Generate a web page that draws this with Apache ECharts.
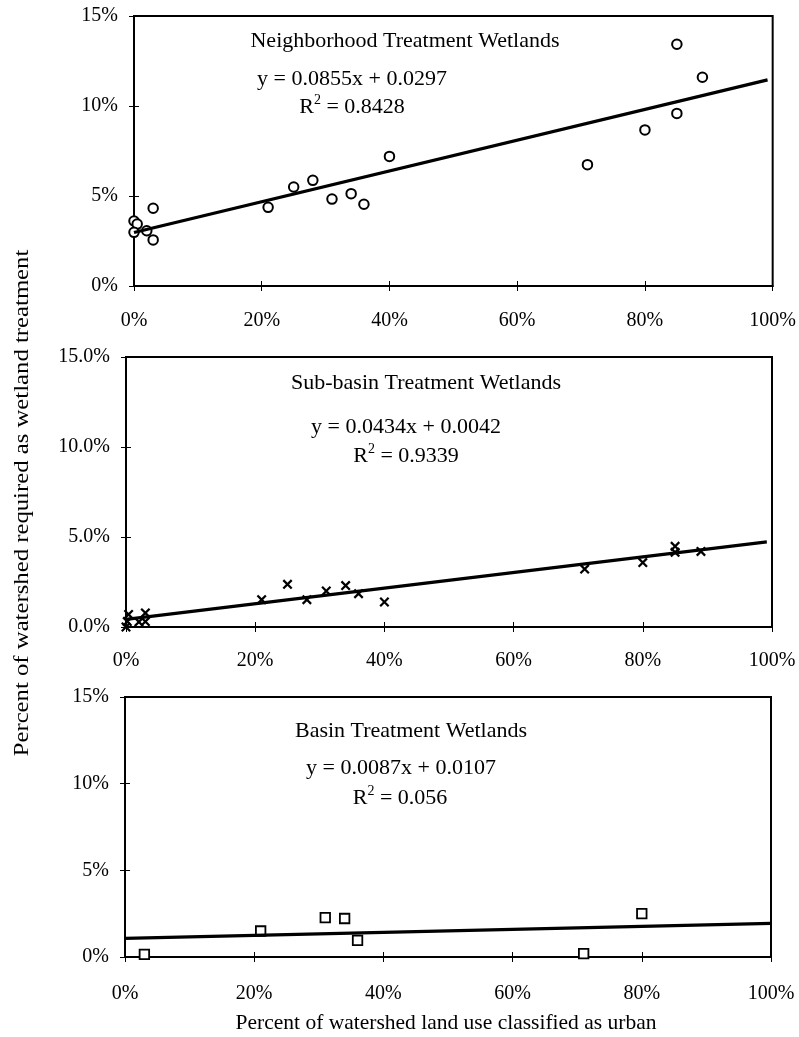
<!DOCTYPE html>
<html>
<head>
<meta charset="utf-8">
<script src="https://cdn.jsdelivr.net/npm/echarts@6/dist/echarts.min.js"></script>
<style>
html,body{margin:0;padding:0;background:#fff;}
#chart{width:799px;height:1037px;}
</style>
</head>
<body>
<div id="chart"></div>
<script>
// ---------------- DATA ----------------
const xTickLabels = ['0%', '20%', '40%', '60%', '80%', '100%'];
const yTickLabelsInt = ['0%', '5%', '10%', '15%'];
const yTickLabelsDec = ['0.0%', '5.0%', '10.0%', '15.0%'];

const panelTitles = ['Neighborhood Treatment Wetlands', 'Sub-basin Treatment Wetlands', 'Basin Treatment Wetlands'];
const slopes = [0.0855, 0.0434, 0.0087];
const intercepts = [0.0297, 0.0042, 0.0107];
const r2Values = ['0.8428', '0.9339', '0.056'];
const trendXEnd = [0.992, 0.992, 1.0];

const neighX = [0, 0.005, 0, 0.02, 0.03, 0.03, 0.21, 0.25, 0.28, 0.31, 0.34, 0.36, 0.40, 0.71, 0.80, 0.85, 0.85, 0.89];
const neighY = [0.0361, 0.0344, 0.0298, 0.0307, 0.0432, 0.0256, 0.0437, 0.0550, 0.0587, 0.0483, 0.0513, 0.0454, 0.0720, 0.0674, 0.0867, 0.0959, 0.1343, 0.1160];

const subX = [0, 0.004, 0.002, 0.02, 0.03, 0.03, 0.21, 0.25, 0.28, 0.31, 0.34, 0.36, 0.40, 0.71, 0.80, 0.85, 0.85, 0.89];
const subY = [0.0000, 0.0070, 0.0030, 0.0028, 0.0078, 0.0030, 0.0152, 0.0237, 0.0152, 0.0200, 0.0230, 0.0185, 0.0139, 0.0322, 0.0358, 0.0448, 0.0415, 0.0420];

const basinX = [0.03, 0.21, 0.31, 0.34, 0.36, 0.71, 0.80];
const basinY = [0.0015, 0.0150, 0.0227, 0.0222, 0.0096, 0.0020, 0.0250];

// ---------------- LAYOUT ----------------
const FONT = '"Liberation Serif", "Times New Roman", serif';
const grids = [
  {left: 134, top: 16, width: 639, height: 270},
  {left: 126, top: 357, width: 646, height: 270},
  {left: 125, top: 697, width: 646, height: 260}
];
const xLabelMargins = [25, 24, 27];
const yLabelSets = [yTickLabelsInt, yTickLabelsDec, yTickLabelsInt];

const chart = echarts.init(document.getElementById('chart'), null, {renderer: 'canvas'});

const gridOpts = grids.map(g => Object.assign({show: true, borderColor: '#000', borderWidth: 2, backgroundColor: 'transparent'}, g));

const xAxes = [], yAxes = [];
grids.forEach((g, i) => {
  const xFmt = v => xTickLabels[Math.round(v / 0.2)];
  const yFmt = v => yLabelSets[i][Math.round(v / 0.05)];
  xAxes.push({
    type: 'value', gridIndex: i, min: 0, max: 1, interval: 0.2, position: 'bottom',
    axisLine: {show: true, onZero: false, lineStyle: {color: '#000', width: 2}},
    axisTick: {show: true, inside: false, length: 5, lineStyle: {color: '#000', width: 1}},
    axisLabel: {margin: xLabelMargins[i], fontFamily: FONT, fontSize: 20, color: '#000', formatter: xFmt},
    splitLine: {show: false}
  });
  yAxes.push({
    type: 'value', gridIndex: i, min: 0, max: 0.15, interval: 0.05, position: 'left',
    axisLine: {show: true, onZero: false, lineStyle: {color: '#000', width: 2}},
    axisTick: {show: true, inside: false, length: 5, lineStyle: {color: '#000', width: 1}},
    axisLabel: {margin: 16, fontFamily: FONT, fontSize: 20, color: '#000', formatter: yFmt},
    splitLine: {show: false}
  });
});
grids.forEach((g, i) => {
  xAxes.push({
    type: 'value', gridIndex: i, min: 0, max: 1, interval: 0.2, position: 'bottom', offset: 0,
    axisLine: {show: false, onZero: false},
    axisTick: {show: true, inside: true, length: 5, lineStyle: {color: '#000', width: 1}},
    axisLabel: {show: false}, splitLine: {show: false}
  });
  yAxes.push({
    type: 'value', gridIndex: i, min: 0, max: 0.15, interval: 0.05, position: 'left', offset: 0,
    axisLine: {show: false, onZero: false},
    axisTick: {show: true, inside: true, length: 5, lineStyle: {color: '#000', width: 1}},
    axisLabel: {show: false}, splitLine: {show: false}
  });
});

const zip = (xs, ys) => xs.map((x, k) => [x, ys[k]]);
const xShape = 'path://M0,1.6 L1.6,0 L10,8.4 L8.4,10 Z M8.4,0 L10,1.6 L1.6,10 L0,8.4 Z';

const series = [
  {type: 'scatter', xAxisIndex: 0, yAxisIndex: 0, data: zip(neighX, neighY), symbol: 'circle', symbolSize: 9.5,
   itemStyle: {color: '#fff', borderColor: '#000', borderWidth: 2, opacity: 1}, z: 3},
  {type: 'scatter', xAxisIndex: 1, yAxisIndex: 1, data: zip(subX, subY), symbol: xShape, symbolSize: 10,
   itemStyle: {color: '#000', opacity: 1}, z: 3},
  {type: 'scatter', xAxisIndex: 2, yAxisIndex: 2, data: zip(basinX, basinY), symbol: 'rect', symbolSize: 9.5,
   itemStyle: {color: '#fff', borderColor: '#000', borderWidth: 1.8, opacity: 1}, z: 3}
];
for (let i = 0; i < 3; i++) {
  series.push({
    type: 'line', xAxisIndex: i, yAxisIndex: i, showSymbol: false, symbol: 'none',
    data: [[0, intercepts[i]], [trendXEnd[i], slopes[i] * trendXEnd[i] + intercepts[i]]],
    lineStyle: {color: '#000', width: 3.2}, z: 4, silent: true
  });
}

function txt(x, y, text, size, extra) {
  return {
    type: 'text', x: x, y: y, z: 100,
    style: Object.assign({
      text: text, fill: '#000', font: size + 'px ' + FONT,
      textAlign: 'center', textVerticalAlign: 'middle', align: 'center', verticalAlign: 'middle'
    }, extra || {})
  };
}
function r2(x, y, val) {
  return {
    type: 'text', x: x, y: y, z: 100,
    style: {
      text: '{a|R}{s|2}{a| = ' + val + '}', fill: '#000',
      textAlign: 'center', textVerticalAlign: 'middle', align: 'center', verticalAlign: 'middle',
      rich: {
        a: {fontFamily: FONT, fontSize: 22, lineHeight: 25, verticalAlign: 'bottom', fill: '#000', color: '#000'},
        s: {fontFamily: FONT, fontSize: 14, lineHeight: 25, verticalAlign: 'top', fill: '#000', color: '#000'}
      }
    }
  };
}
const eq = i => 'y = ' + slopes[i].toFixed(4) + 'x + ' + intercepts[i].toFixed(4);

const yTitle = txt(22, 503, 'Percent of watershed required as wetland treatment', 21.5);
yTitle.rotation = Math.PI / 2;
yTitle.scaleX = 1.15;

const graphics = [
  txt(405, 41, panelTitles[0], 22), txt(352, 79, eq(0), 22), r2(352, 106, r2Values[0]),
  txt(426, 383, panelTitles[1], 22), txt(406, 427, eq(1), 22), r2(406, 455, r2Values[1]),
  txt(411, 731, panelTitles[2], 22), txt(401, 768, eq(2), 22), r2(400, 797, r2Values[2]),
  txt(446, 1023, 'Percent of watershed land use classified as urban', 21.5),
  yTitle
];

chart.setOption({
  animation: false,
  backgroundColor: '#fff',
  grid: gridOpts,
  xAxis: xAxes,
  yAxis: yAxes,
  series: series,
  graphic: {elements: graphics}
});
</script>
</body>
</html>
